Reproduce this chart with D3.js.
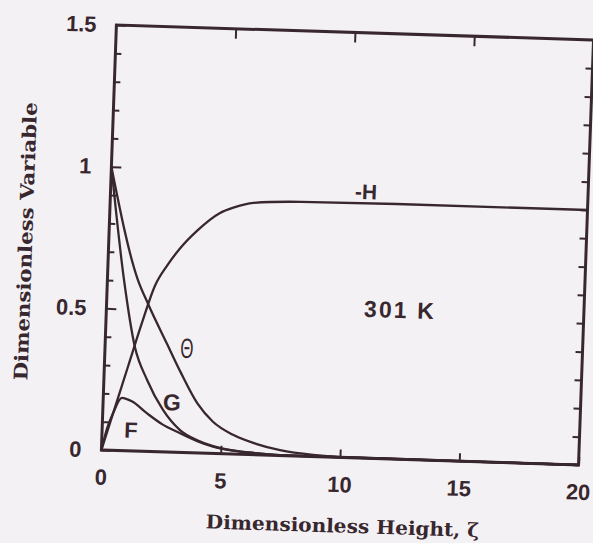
<!DOCTYPE html>
<html>
<head>
<meta charset="utf-8">
<script src="https://cdn.jsdelivr.net/npm/d3@7"></script>
<style>
  html, body { margin: 0; padding: 0; background: #f3f1f3; }
  svg { display: block; }
</style>
</head>
<body>
<div id="chart"></div>
<script>
// dimensionless profiles (301 K case)
const zetaH = [0, 0.5, 1.0, 1.5, 2.0, 2.5, 3.0, 3.7, 4.6, 5.2, 6, 8, 12, 20];
const negH  = [0, 0.15, 0.30, 0.45, 0.585, 0.66, 0.72, 0.785, 0.848, 0.87, 0.888, 0.897, 0.9, 0.9];

const zetaF = [0, 0.2, 0.43, 0.78, 1.2, 1.86, 2.5, 3.27, 4.0, 4.67, 5.5, 6.5, 8, 20];
const valF  = [0, 0.075, 0.13, 0.186, 0.175, 0.134, 0.098, 0.068, 0.042, 0.024, 0.012, 0.005, 0.001, 0];

const zetaG = [0, 0.7, 1.25, 1.81, 2.52, 3.26, 4.0, 4.67, 5.5, 6.5, 8, 20];
const valG  = [1.0, 0.60, 0.367, 0.252, 0.148, 0.079, 0.045, 0.026, 0.013, 0.006, 0.001, 0];

const zetaT = [0, 1.28, 1.74, 2.6, 3.19, 3.95, 4.63, 5.49, 6.5, 7.48, 8.87, 10, 20];
const valT  = [1.0, 0.603, 0.52, 0.38, 0.285, 0.175, 0.112, 0.068, 0.038, 0.019, 0.006, 0.002, 0];

const xTicks = [0, 5, 10, 15, 20];
const yTicks = [0, 0.5, 1, 1.5];
const yMinor = [0.1, 0.2, 0.3, 0.4, 0.6, 0.7, 0.8, 0.9, 1.1, 1.2, 1.3, 1.4];

// curve labels in data coordinates
const labels = [
  { text: '-H',    x: 10.7,  y: 0.94,  size: 21 },
  { text: '301 K', x: 12.25, y: 0.527, size: 23, len: 70 },
  { text: 'G',     x: 2.88,  y: 0.176, size: 23 },
  { text: 'F',     x: 1.21,  y: 0.073, size: 22 }
];
const theta = { x: 3.43, y: 0.368 };

const W = 593, H = 543;
const PW = 480, PH = 425;
const INK = '#38272f';

const svg = d3.select('#chart').append('svg')
  .attr('width', W).attr('height', H);

svg.append('rect').attr('width', W).attr('height', H).attr('fill', '#f3f1f3');

// the scan is slightly skewed, so the whole plot sits in a sheared frame
const g = svg.append('g')
  .attr('transform', 'matrix(0.994,0.03125,-0.0353,1,116.4,25)');

const x = d3.scaleLinear().domain([0, 20]).range([0, PW]);
const y = d3.scaleLinear().domain([0, 1.5]).range([PH, 0]);

const tickFont = g => g.selectAll('text')
  .attr('fill', INK)
  .style('font-family', '"Liberation Sans", Arial, sans-serif')
  .style('font-weight', '700')
  .style('font-size', '22px');

const clean = g => {
  g.select('.domain').remove();
  g.selectAll('.tick line').attr('stroke', INK).attr('stroke-width', 2);
};

// left axis
g.append('g')
  .call(d3.axisLeft(y).tickValues(yTicks).tickSize(-10).tickPadding(20).tickFormat(d3.format('')))
  .call(clean).call(tickFont);
g.append('g')
  .call(d3.axisLeft(y).tickValues(yMinor).tickSize(-6).tickFormat(''))
  .call(clean);

// right axis
g.append('g').attr('transform', `translate(${PW},0)`)
  .call(d3.axisRight(y).tickValues(yMinor.concat([0.5, 1])).tickSize(-7).tickFormat(''))
  .call(clean);

// bottom axis
g.append('g').attr('transform', `translate(0,${PH})`)
  .call(d3.axisBottom(x).tickValues(xTicks).tickSize(-8).tickPadding(19))
  .call(clean).call(tickFont);

// top axis
g.append('g')
  .call(d3.axisTop(x).tickValues([5, 10, 15]).tickSize(-10).tickFormat(''))
  .call(clean);

// frame
g.append('rect')
  .attr('x', 0).attr('y', 0).attr('width', PW).attr('height', PH)
  .attr('fill', 'none').attr('stroke', INK).attr('stroke-width', 3);

const line = d3.line()
  .x(d => x(d[0]))
  .y(d => y(d[1]))
  .curve(d3.curveMonotoneX);

const series = [
  d3.zip(zetaH, negH),
  d3.zip(zetaF, valF),
  d3.zip(zetaG, valG),
  d3.zip(zetaT, valT)
];

g.append('g').selectAll('path')
  .data(series)
  .join('path')
  .attr('d', line)
  .attr('fill', 'none')
  .attr('stroke', INK)
  .attr('stroke-width', 2.3)
  .attr('stroke-linejoin', 'round');

// curve labels
g.append('g').selectAll('text')
  .data(labels)
  .join('text')
  .attr('x', d => x(d.x))
  .attr('y', d => y(d.y))
  .attr('text-anchor', 'middle')
  .attr('dominant-baseline', 'central')
  .attr('fill', INK)
  .style('font-family', '"Liberation Sans", Arial, sans-serif')
  .style('font-weight', '700')
  .style('font-size', d => d.size + 'px')
  .each(function (d) {
    if (d.len) d3.select(this).attr('textLength', d.len).attr('lengthAdjust', 'spacing');
  })
  .text(d => d.text);

g.append('text')
  .attr('transform', `translate(${x(theta.x)},${y(theta.y)}) scale(0.68,1.12)`)
  .attr('text-anchor', 'middle')
  .attr('dominant-baseline', 'central')
  .attr('fill', INK)
  .style('font-family', '"Liberation Sans", Arial, sans-serif')
  .style('font-size', '25px')
  .text('Θ');

// axis titles
g.append('text')
  .attr('x', 245).attr('y', PH + 75)
  .attr('text-anchor', 'middle')
  .attr('fill', INK)
  .attr('textLength', 275).attr('lengthAdjust', 'spacingAndGlyphs')
  .style('font-family', '"DejaVu Serif", "Liberation Serif", serif')
  .style('font-weight', '700')
  .style('font-size', '19px')
  .text('Dimensionless Height, ζ');

g.append('text')
  .attr('transform', `translate(-84,219) rotate(-90)`)
  .attr('text-anchor', 'middle')
  .attr('dominant-baseline', 'central')
  .attr('fill', INK)
  .attr('textLength', 278).attr('lengthAdjust', 'spacingAndGlyphs')
  .style('font-family', '"DejaVu Serif", "Liberation Serif", serif')
  .style('font-weight', '700')
  .style('font-size', '19px')
  .text('Dimensionless Variable');
</script>
</body>
</html>
